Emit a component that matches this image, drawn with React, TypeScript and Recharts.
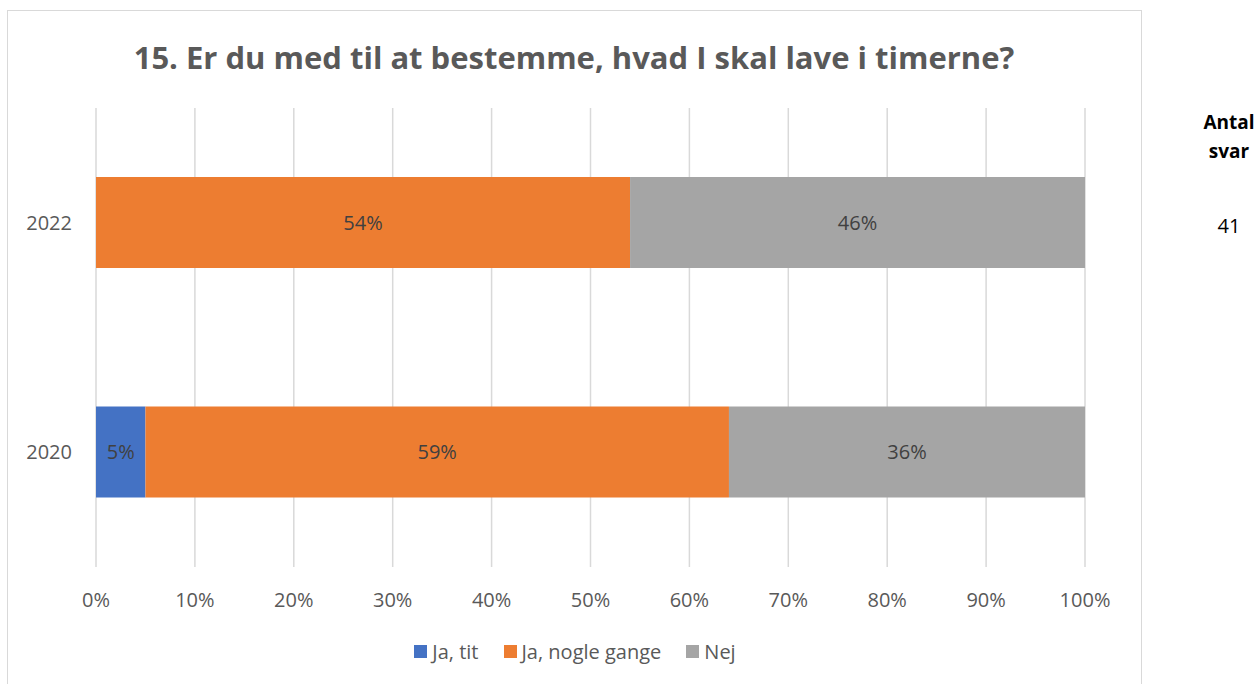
import React from 'react';
import { BarChart, Bar, XAxis, YAxis, CartesianGrid, Legend, LabelList } from 'recharts';

// survey years (top to bottom) and answer shares
const years = ['2022', '2020'];
const jaTit = [0, 0.05];
const jaNogleGange = [0.54, 0.59];
const nej = [0.46, 0.36];
const xTicks = [0, 0.1, 0.2, 0.3, 0.4, 0.5, 0.6, 0.7, 0.8, 0.9, 1];
const antalSvar = '41';

const seriesNames = ['Ja, tit', 'Ja, nogle gange', 'Nej'];
const seriesColors = ['#4472c4', '#ed7d31', '#a5a5a5'];

const FONT = '"Open Sans", sans-serif';

const data = years.map((y, i) => ({
  year: y,
  jaTit: jaTit[i],
  jaNogleGange: jaNogleGange[i],
  nej: nej[i],
}));

const pct = (v: any) => (v ? `${Math.round(Number(v) * 100)}%` : '');

const renderLegend = () => (
  <div style={{ display: 'flex', justifyContent: 'center', fontFamily: FONT, fontSize: 20, color: '#595959' }}>
    {seriesNames.map((name, i) => (
      <div key={name} style={{ display: 'flex', alignItems: 'center', marginRight: i < 2 ? 25 : 0 }}>
        <span style={{ width: 13, height: 13, background: seriesColors[i], display: 'inline-block', marginRight: 5 }} />
        <span>{name}</span>
      </div>
    ))}
  </div>
);

const App: React.FC = () => {
  return (
    <div style={{ position: 'absolute', left: 0, top: 0, width: 1259, height: 684, overflow: 'hidden', background: '#fff' }}>
      {/* chart frame */}
      <div style={{ position: 'absolute', left: 7, top: 10, width: 1133, height: 700, border: '1px solid #d9d9d9' }} />

      {/* Title */}
      <div
        style={{
          position: 'absolute', left: 7, width: 1134, top: 36, textAlign: 'center',
          fontFamily: FONT, fontWeight: 700, fontSize: 31, color: '#595959', lineHeight: '42px',
        }}
      >
        15. Er du med til at bestemme, hvad I skal lave i timerne?
      </div>

      <div style={{ position: 'absolute', left: 0, top: 0 }}>
        <BarChart
          width={1259}
          height={684}
          data={data}
          layout="vertical"
          margin={{ top: 108, right: 174, left: 0, bottom: 77 }}
        >
          <CartesianGrid horizontal={false} vertical stroke="#d9d9d9" strokeWidth={1.5} />
          <XAxis
            type="number"
            domain={[0, 1]}
            ticks={xTicks}
            tickFormatter={(v) => `${Math.round(v * 100)}%`}
            axisLine={false}
            tickLine={false}
            height={40}
            tickMargin={20}
            tick={{ fill: '#595959', fontSize: 20, fontFamily: FONT }}
          />
          <YAxis
            type="category"
            dataKey="year"
            width={96}
            axisLine={false}
            tickLine={false}
            tickMargin={18}
            tick={{ fill: '#595959', fontSize: 20, fontFamily: FONT }}
          />
          <Legend
            layout="horizontal"
            verticalAlign="middle"
            align="center"
            content={renderLegend}
            wrapperStyle={{ top: 638, left: 0, width: 1150 }}
          />
          <Bar dataKey="jaTit" name={seriesNames[0]} stackId="a" fill={seriesColors[0]} barSize={91} isAnimationActive={false}>
            <LabelList dataKey="jaTit" position="center" formatter={pct} fill="#404040" fontSize={20} fontFamily={FONT} />
          </Bar>
          <Bar dataKey="jaNogleGange" name={seriesNames[1]} stackId="a" fill={seriesColors[1]} barSize={91} isAnimationActive={false}>
            <LabelList dataKey="jaNogleGange" position="center" formatter={pct} fill="#404040" fontSize={20} fontFamily={FONT} />
          </Bar>
          <Bar dataKey="nej" name={seriesNames[2]} stackId="a" fill={seriesColors[2]} barSize={91} isAnimationActive={false}>
            <LabelList dataKey="nej" position="center" formatter={pct} fill="#404040" fontSize={20} fontFamily={FONT} />
          </Bar>
        </BarChart>
      </div>

      {/* Antal svar side column */}
      <div
        style={{
          position: 'absolute', left: 1179, width: 100, top: 108, textAlign: 'center',
          fontFamily: FONT, fontWeight: 700, fontSize: 19, color: '#000', lineHeight: '29px',
        }}
      >
        Antal
        <br />
        svar
      </div>
      <div
        style={{
          position: 'absolute', left: 1179, width: 100, top: 212, textAlign: 'center',
          fontFamily: FONT, fontSize: 20, color: '#000', lineHeight: '28px',
        }}
      >
        {antalSvar}
      </div>
    </div>
  );
};

export default App;
